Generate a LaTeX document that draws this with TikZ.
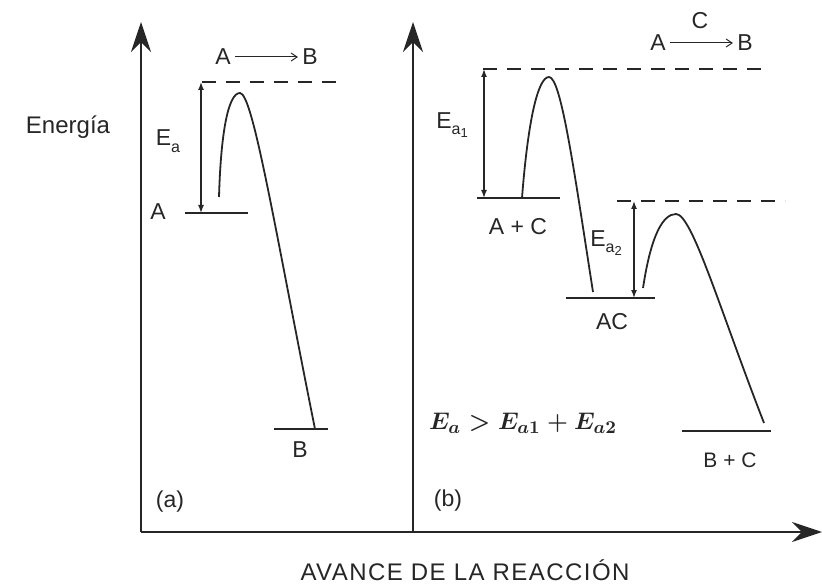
\documentclass[tikz,border=0pt]{standalone}
\usepackage{fontspec}
\setmainfont{Liberation Sans}
\usepackage{amsmath}
\usepackage{tikz}
\usetikzlibrary{arrows.meta,calc}
\definecolor{ink}{HTML}{262626}
\newcommand{\lowsub}[1]{\raisebox{-0.55ex}{\fontsize{8}{9}\selectfont #1}}
\newcommand{\lowsubsub}[1]{\raisebox{-0.35ex}{\fontsize{6.5}{7}\selectfont #1}}
\tikzset{
  axisline/.style={line width=1pt, draw=ink, -{Stealth[length=15pt,width=10pt]}},
  levelline/.style={line width=0.9pt, draw=ink},
  profile/.style={line width=0.9pt, draw=ink},
  dashline/.style={line width=0.8pt, draw=ink, dash pattern=on 7pt off 5pt},
  eaarrow/.style={line width=0.7pt, draw=ink, {Latex[length=4pt,width=3pt]}-{Latex[length=4pt,width=3pt]}},
  rxarrow/.style={line width=0.5pt, draw=ink, -{Straight Barb[length=3pt,width=4pt]}, shorten <=1pt, shorten >=1pt},
  lbl/.style={inner sep=1pt, text=ink, font=\fontsize{11.5}{13}\selectfont},
  smalllbl/.style={inner sep=1pt, text=ink, font=\fontsize{10.5}{12}\selectfont}
}
\begin{document}
\begin{tikzpicture}[x=0.5pt, y=-0.5pt]
  \useasboundingbox (0,0) rectangle (822,587);
  % axes
  \coordinate (origin) at (141,532);
  \coordinate (ytopa) at (141,22);
  \coordinate (xbase) at (413,532);
  \coordinate (ytopb) at (413,22);
  \coordinate (xend) at (822,532);
  \draw[axisline] (origin) -- (ytopa);
  \draw[axisline] (xbase) -- (ytopb);
  \draw[axisline] (origin) -- (xend);
  \node[lbl, font=\fontsize{12}{14}\selectfont] (energy) at (68,127) {Energía};
  \node[lbl, font=\fontsize{12}{14}\selectfont\addfontfeatures{LetterSpace=6}] (progress) at (465,570) {AVANCE DE LA REACCIÓN};

  % (a) uncatalysed
  \coordinate (aA1) at (185,213);
  \coordinate (aA2) at (248,213);
  \coordinate (aB1) at (274,429);
  \coordinate (aB2) at (328,429);
  \coordinate (adash1) at (202,82);
  \coordinate (adash2) at (342,82);
  \coordinate (aeatop) at (201,82);
  \coordinate (aeabot) at (201,213);
  \coordinate (astart) at (219,197);
  \coordinate (apeak) at (240,93);
  \coordinate (aend) at (315,429);
  \draw[levelline] (aA1) -- (aA2);
  \draw[levelline] (aB1) -- (aB2);
  \draw[dashline] (adash1) -- (adash2);
  \draw[eaarrow] (aeatop) -- (aeabot);
  \draw[profile] (astart) .. controls (221,128) and (229,93) .. (apeak)
    .. controls (253,93) and (276,235) .. (aend);
  \node[lbl] (labA) at (158,212) {A};
  \node[lbl] (labB) at (300,450) {B};
  \node[lbl] (labEa) at (168,141) {E\lowsub{a}};
  \node[lbl] (rxa1) at (223,57) {A};
  \node[lbl] (rxa2) at (310,57) {B};
  \draw[rxarrow] (rxa1) -- (rxa2);
  \node[lbl] (tagA) at (170,502) {(a)};

  % (b) catalysed
  \coordinate (bAC1) at (477,198);
  \coordinate (bAC2) at (560,198);
  \coordinate (bmid1) at (566,298);
  \coordinate (bmid2) at (655,298);
  \coordinate (bBC1) at (682,431);
  \coordinate (bBC2) at (771,431);
  \coordinate (bdash1) at (483,69);
  \coordinate (bdash2) at (762,69);
  \coordinate (bdash3) at (617,201);
  \coordinate (bdash4) at (785,201);
  \coordinate (bea1top) at (484,69);
  \coordinate (bea1bot) at (484,198);
  \coordinate (bea2top) at (634,201);
  \coordinate (bea2bot) at (634,298);
  \coordinate (bstart1) at (522,198);
  \coordinate (bpeak1) at (549,77);
  \coordinate (bend1) at (593,292);
  \coordinate (bstart2) at (643,288);
  \coordinate (bpeak2) at (676,214);
  \coordinate (bend2) at (764,423);
  \draw[levelline] (bAC1) -- (bAC2);
  \draw[levelline] (bmid1) -- (bmid2);
  \draw[levelline] (bBC1) -- (bBC2);
  \draw[dashline] (bdash1) -- (bdash2);
  \draw[dashline] (bdash3) -- (bdash4);
  \draw[eaarrow] (bea1top) -- (bea1bot);
  \draw[eaarrow] (bea2top) -- (bea2bot);
  \draw[profile] (bstart1) .. controls (528,120) and (538,77) .. (bpeak1)
    .. controls (561,77) and (574,170) .. (bend1);
  \draw[profile] (bstart2) .. controls (651,235) and (663,214) .. (bpeak2)
    .. controls (692,214) and (720,310) .. (bend2);
  \node[lbl] (labAC) at (518,227) {A + C};
  \node[lbl] (labmid) at (612,322) {AC};
  \node[smalllbl] (labBC) at (730,460) {B + C};
  \node[lbl] (labEa1) at (452,125) {E\lowsub{a\lowsubsub{1}}};
  \node[lbl] (labEa2) at (606,243) {E\lowsub{a\lowsubsub{2}}};
  \node[lbl] (rxb1) at (658,43) {A};
  \node[lbl] (rxb2) at (745,43) {B};
  \draw[rxarrow] (rxb1) -- (rxb2);
  \node[lbl] (cat) at (700,21) {C};
  \node[lbl] (tagB) at (448,501) {(b)};
  \node[inner sep=0pt, text=ink, font=\fontsize{13}{15}\selectfont] (compare) at (523,423) {$\boldsymbol{E_a > E_{a1} + E_{a2}}$};
\end{tikzpicture}
\end{document}
